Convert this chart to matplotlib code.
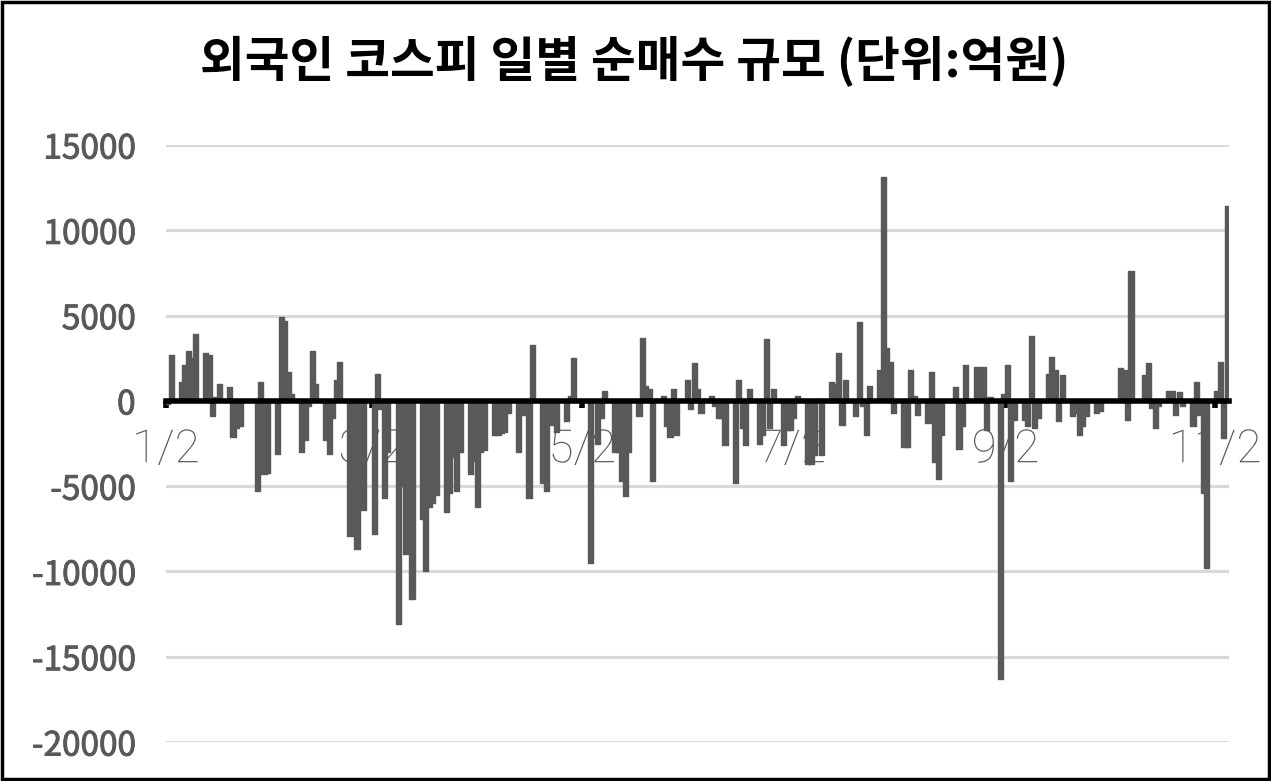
import matplotlib
matplotlib.use("Agg")
import matplotlib.pyplot as plt
import matplotlib.dates as mdates
import matplotlib.patheffects as pe
from matplotlib.patches import Rectangle
import pandas as pd

plt.rcParams['font.family'] = ['Noto Sans CJK KR', 'DejaVu Sans']

title = "외국인 코스피 일별 순매수 규모 (단위:억원)"

# KRX trading days 2020-01-02 .. 2020-11-05
holidays = ['2020-01-24', '2020-01-27', '2020-04-15', '2020-04-30', '2020-05-01',
            '2020-05-05', '2020-08-17', '2020-09-30', '2020-10-01', '2020-10-02',
            '2020-10-09']
days = pd.bdate_range('2020-01-02', '2020-11-05', freq='C', holidays=holidays)

# foreign net buying per trading day (100M KRW)
jan = [-200, 2700, 1100, 2100, 2900, 2500, 3900, 2800, 2700, -900,
       200, 1000, 800, -2100, -1600, -1500, -5300, 1100, -4300, -4200]
feb = [-3100, 4900, 4700, 1700, 400, -3000, -2300, -300, 2900, 1000,
       -2300, -3100, -1000, 1200, 2300, -7900, -4000, -8700, -3000, -6400]
mar = [-7800, 1600, -500, -5700, -3000, -13100, -5000, -9000, -6000, -11600,
       -6900, -10000, -6200, -6000, -5500, -6500, -5400, -3300, -5300, -3000,
       -4300, -3500]
apr = [-6200, -3000, -2900, -2000, -2000, -1900, -1800, -700, -3000, -800,
       -5700, 3300, -4800, -5300, -1200, -1400, -1800, -1200, 300, 2500]
may = [-9500, -2500, -1000, 600, -3000, -3000, -4700, -5600, -3000, -900,
       3700, 900, 700, -4700, 300, -1500, -2100, 700, -2000]
jun = [1200, -500, 2200, 700, -700, 300, -300, -1000, -1000, -2600,
       -4800, 1200, -1600, -2600, 700, -2500, -2000, 3600, -1600, 700,
       -2600, -1700]
jul = [-1700, -1000, 300, -3700, -3700, -3200, 100, -3200, 1100, 1000,
       2800, -1400, 1200, -900, 4600, -300, -2000, 900, 1800, 13100,
       3100, 2300, -700]
aug = [-2700, -2700, 1800, 300, -800, -1300, 1700, -3600, -4600, -2000,
       800, -2800, -1500, 2100, 2000, 1900, 2000, -1700, 200, -16300]
sep = [400, 2100, -4700, -1100, -1100, -1500, 3800, -1600, -1000, 1600,
       2600, 1800, -1200, 1500, -900, -700, -2000, -1500, -900, -700, -600]
octo = [1900, 1800, -1100, 7600, 1500, 2200, -400, -1600, -300, 600,
        600, -800, 500, -300, -1500, 1100, -800, -5400, -9800]
nov = [600, 2300, -2200, 11400]

values = jan + feb + mar + apr + may + jun + jul + aug + sep + octo + nov
assert len(values) == len(days), (len(values), len(days))

tick_dates = ['2020-01-02', '2020-03-02', '2020-05-02', '2020-07-02', '2020-09-02', '2020-11-02']
tick_labels = ['1/2', '3/2', '5/2', '7/2', '9/2', '11/2']
ytick_vals = [-20000, -15000, -10000, -5000, 0, 5000, 10000, 15000]
ytick_labels = ['-20000', '-15000', '-10000', '-5000', '0', '5000', '10000', '15000']

bar_color = '#595959'
grid_color = '#d9d9d9'
label_gray = '#595959'

fig = plt.figure(figsize=(12.71, 7.81), dpi=100)
ax = fig.add_axes([0.1306, 0.0499, 0.8364, 0.7644])

x = mdates.date2num(days) + 0.5  # bars sit in the middle of their day slot
ax.bar(x, values, width=1.5, color=bar_color, edgecolor=bar_color,
       linewidth=1.0, joinstyle='round', zorder=2)

for yv in ytick_vals:
    if yv != 0:
        ax.axhline(yv, color=grid_color, linewidth=2.2, zorder=1)

ax.set_xlim(mdates.date2num(pd.Timestamp('2020-01-02')),
            mdates.date2num(pd.Timestamp('2020-11-06')))
ax.set_ylim(-20000, 15000)

for s in ['top', 'right', 'left']:
    ax.spines[s].set_visible(False)
ax.spines['bottom'].set_position(('data', 0))
ax.spines['bottom'].set_linewidth(4)
ax.spines['bottom'].set_color('black')
ax.spines['bottom'].set_zorder(3)

ax.set_xticks(mdates.date2num(pd.to_datetime(tick_dates)), tick_labels)
ax.set_yticks(ytick_vals, ytick_labels)
ax.tick_params(axis='x', direction='out', length=5, width=4, color='black',
               pad=14, labelsize=33, labelcolor=label_gray)
ax.tick_params(axis='y', length=0, pad=22, labelsize=24, labelcolor=label_gray)
for lab in ax.get_xticklabels():
    lab.set_fontfamily(['Roboto', 'DejaVu Sans'])
    lab.set_fontweight('light')
    lab.set_path_effects([pe.withStroke(linewidth=6, foreground='white')])
for lab in ax.get_yticklabels():
    # slightly heavier than regular
    lab.set_path_effects([pe.withStroke(linewidth=0.7, foreground=label_gray)])

fig.text(0.499, 0.921, title, ha='center', va='center',
         fontsize=35, fontweight='bold', color='black')

fig.add_artist(Rectangle((0.0015, 0.002), 0.997, 0.996, transform=fig.transFigure,
                         fill=False, edgecolor='black', linewidth=2.5))

fig.savefig('out.png', dpi=100)
